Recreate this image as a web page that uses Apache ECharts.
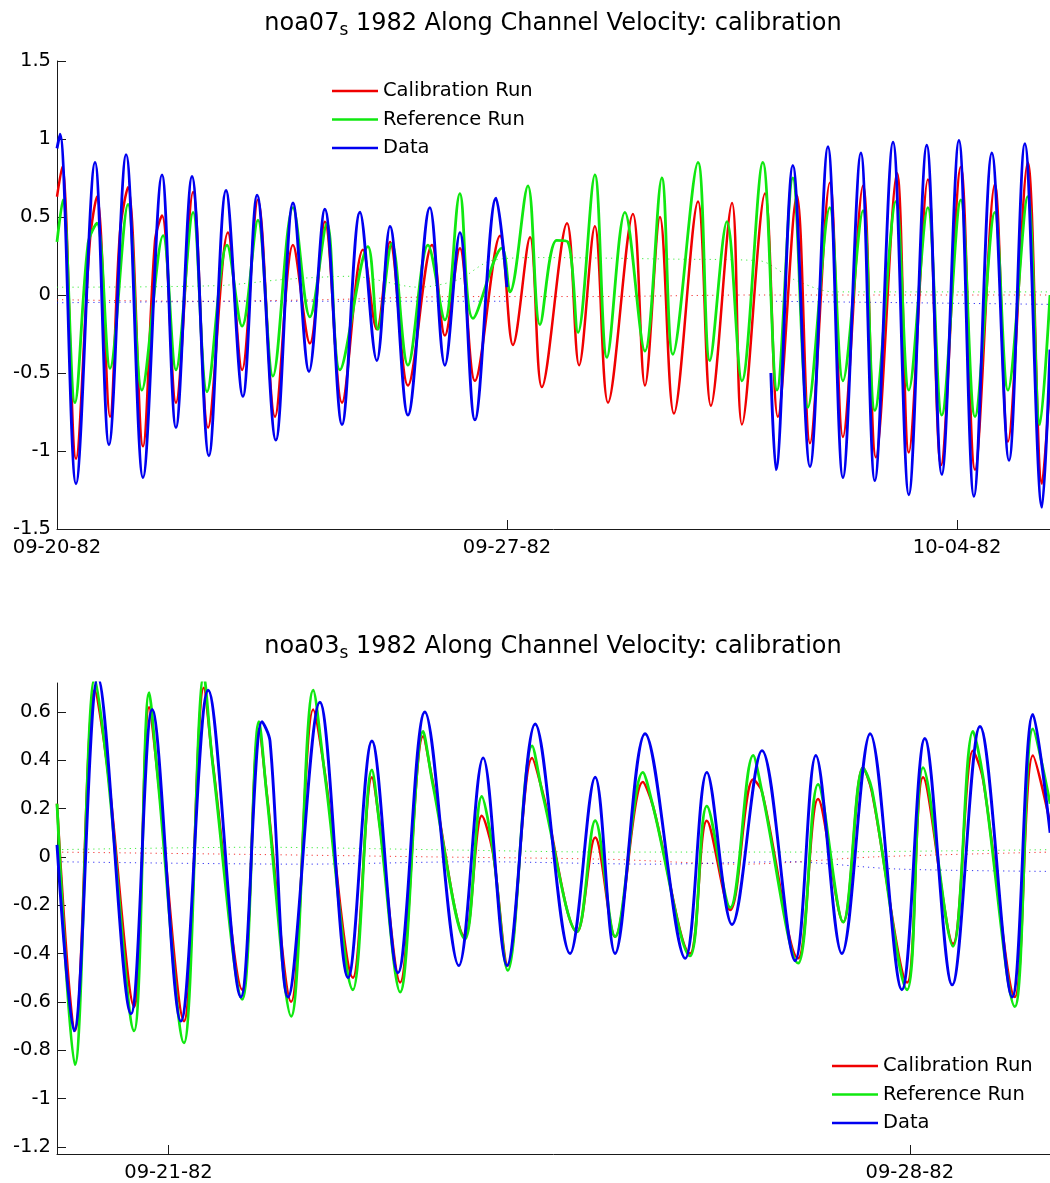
<!DOCTYPE html>
<html>
<head>
<meta charset="utf-8">
<script src="https://cdn.jsdelivr.net/npm/echarts@6/dist/echarts.min.js"></script>
<style>
  html, body { margin: 0; padding: 0; background: #fff; }
  #chart { width: 1050px; height: 1183px; }
</style>
</head>
<body>
<div id="chart"></div>
<script>
// ---------- Upper panel: noa07, hours after 09-20-82 00:00 -> along-channel velocity ----------
const topCalibration = [[0,0.63],[1.9,0.82],[7.1,-1.05],[12.3,0.35],[14.9,0.63],[19.8,-0.78],[23.5,0.40],[26.5,0.69],[32.1,-0.97],[36.6,0.35],[39.2,0.51],[44.4,-0.69],[50.8,0.66],[56.4,-0.85],[63.8,0.40],[69.1,-0.48],[75.0,0.61],[81.4,-0.78],[88.1,0.32],[94.4,-0.31],[100.0,0.47],[106.4,-0.69],[114.2,0.29],[119.4,-0.22],[124.3,0.34],[131.0,-0.58],[140.0,0.32],[144.8,-0.26],[150.4,0.30],[156.0,-0.55],[165.4,0.38],[170.2,-0.32],[176.6,0.37],[181.0,-0.59],[190.4,0.46],[194.9,-0.45],[200.8,0.44],[205.7,-0.69],[215.0,0.52],[219.5,-0.58],[225.1,0.50],[230.3,-0.76],[239.3,0.60],[244.1,-0.71],[252.0,0.59],[255.7,-0.83],[264.3,0.65],[269.1,-0.78],[276.2,0.64],[281.1,-0.95],[288.5,0.72],[293.4,-0.91],[300.9,0.70],[305.7,-1.04],[313.6,0.78],[318.0,-1.01],[325.1,0.74],[330.0,-1.09],[337.4,0.82],[342.7,-1.12],[350.1,0.71],[355.0,-0.94],[362.4,0.85],[367.7,-1.21],[370.7,-0.55]];
const topReference = [[0,0.34],[2.2,0.61],[6.7,-0.69],[11.6,0.33],[14.9,0.46],[19.8,-0.47],[26.5,0.58],[31.7,-0.61],[39.6,0.38],[44.4,-0.48],[50.8,0.53],[56.0,-0.62],[63.5,0.32],[69.1,-0.20],[75.0,0.48],[80.6,-0.52],[88.1,0.56],[94.4,-0.14],[100.8,0.46],[105.6,-0.48],[116.1,0.31],[119.8,-0.22],[125.0,0.33],[131.0,-0.45],[138.5,0.32],[144.8,-0.16],[150.4,0.65],[155.3,-0.15],[166.1,0.30],[169.1,0.02],[175.8,0.70],[180.3,-0.19],[186.5,0.35],[190.7,0.34],[194.5,-0.24],[200.8,0.77],[205.3,-0.40],[212.0,0.53],[219.5,-0.36],[225.8,0.75],[229.9,-0.38],[239.3,0.85],[243.7,-0.42],[250.1,0.47],[255.7,-0.55],[263.5,0.85],[268.8,-0.61],[274.7,0.75],[280.3,-0.72],[288.5,0.56],[293.4,-0.55],[300.9,0.54],[305.3,-0.74],[313.2,0.60],[318.0,-0.61],[325.1,0.56],[330.3,-0.77],[337.4,0.61],[342.7,-0.78],[350.1,0.53],[355.0,-0.61],[362.4,0.63],[366.9,-0.83],[370.7,0.0]];
// observed record has a gap between 09-27 and 10-01
const topData = [[0,0.94],[1.1,1.03],[7.1,-1.21],[14.2,0.85],[19.4,-0.96],[25.8,0.90],[32.1,-1.17],[39.2,0.77],[44.4,-0.85],[50.4,0.76],[56.7,-1.03],[63.1,0.67],[69.4,-0.65],[74.7,0.64],[81.7,-0.93],[88.1,0.59],[94.1,-0.49],[100.0,0.55],[106.4,-0.83],[113.1,0.53],[119.4,-0.42],[124.3,0.44],[131.0,-0.77],[139.2,0.56],[144.8,-0.45],[150.4,0.40],[156.0,-0.80],[163.9,0.62],[168.0,0.05],[216,null],[266.5,-0.50],[268.4,-1.12],[274.7,0.83],[281.1,-1.10],[287.8,0.95],[293.4,-1.17],[300.1,0.91],[305.3,-1.19],[312.1,0.98],[318.0,-1.28],[324.7,0.96],[330.3,-1.15],[336.7,0.99],[342.3,-1.29],[349.0,0.91],[355.4,-1.06],[361.3,0.97],[367.7,-1.36],[370.7,-0.35]];
// low-passed (subtidal) traces, drawn dotted
const topCalibrationMean = [[0,-0.03],[50,-0.04],[100,-0.03],[150,-0.01],[200,-0.01],[260,0.0],[320,0.0],[370.7,0.0]];
const topReferenceMean = [[0,0.05],[60,0.06],[85,0.10],[110,0.12],[135,0.05],[150,0.10],[162,0.22],[180,0.24],[230,0.23],[262,0.22],[275,0.10],[290,0.02],[370.7,0.02]];
const topDataMean = [[0,-0.05],[80,-0.04],[168,-0.04],[216,null],[266.5,-0.04],[320,-0.05],[370.7,-0.06]];
const topTickHours = [0, 168, 336];
const topTickLabels = ['09-20-82', '09-27-82', '10-04-82'];

// ---------- Lower panel: noa03, hours after 09-21-82 00:00 ----------
const bottomCalibration = [[-25.27,0.22],[-21.2,-0.72],[-16.7,0.69],[-13.9,0.38],[-7.8,-0.62],[-4.4,0.62],[-2.4,0.33],[3.5,-0.68],[8.0,0.70],[10.1,0.38],[16.7,-0.55],[20.5,0.53],[22.3,0.26],[27.8,-0.60],[32.8,0.61],[35.5,0.34],[41.8,-0.50],[46.1,0.33],[47.9,0.13],[52.5,-0.52],[57.7,0.50],[59.9,0.31],[67.2,-0.33],[71.0,0.17],[73.5,0.02],[76.9,-0.45],[82.4,0.41],[84.9,0.26],[92.6,-0.31],[96.7,0.08],[101.2,-0.33],[107.5,0.31],[109.8,0.21],[118.2,-0.40],[122.0,0.15],[127.3,-0.22],[132.5,0.32],[134.5,0.27],[142.7,-0.42],[147.2,0.24],[152.9,-0.27],[157.4,0.37],[159.4,0.27],[167.4,-0.52],[171.0,0.33],[177.8,-0.36],[182.3,0.44],[184.6,0.32],[191.8,-0.58],[195.9,0.42],[199.8,0.14]];
const bottomReference = [[-25.27,0.22],[-21.2,-0.86],[-16.7,0.74],[-13.9,0.37],[-7.8,-0.72],[-4.4,0.68],[-2.4,0.32],[3.5,-0.77],[8.0,0.75],[10.1,0.37],[16.7,-0.59],[20.5,0.56],[22.3,0.25],[27.8,-0.66],[32.8,0.69],[35.5,0.33],[41.8,-0.55],[46.1,0.36],[47.9,0.12],[52.5,-0.56],[57.7,0.52],[59.9,0.30],[67.2,-0.34],[71.0,0.25],[73.5,0.03],[76.9,-0.47],[82.4,0.46],[84.9,0.25],[92.6,-0.31],[96.7,0.15],[101.2,-0.33],[107.5,0.35],[109.8,0.21],[118.2,-0.41],[122.0,0.21],[127.3,-0.21],[132.5,0.42],[134.5,0.27],[142.7,-0.44],[147.2,0.30],[152.9,-0.27],[157.4,0.37],[159.4,0.28],[167.4,-0.55],[171.0,0.37],[177.8,-0.37],[182.3,0.52],[184.6,0.33],[191.8,-0.62],[195.9,0.53],[199.8,0.22]];
const bottomData = [[-25.27,0.05],[-21.4,-0.72],[-16.0,0.74],[-8.5,-0.65],[-3.7,0.61],[2.8,-0.68],[9.0,0.69],[16.4,-0.58],[21.2,0.56],[23.0,0.48],[27.1,-0.58],[34.3,0.64],[40.7,-0.50],[46.1,0.48],[52.0,-0.48],[58.1,0.60],[65.8,-0.45],[71.3,0.41],[76.7,-0.45],[83.1,0.55],[91.0,-0.40],[96.7,0.33],[101.2,-0.40],[108.0,0.51],[117.1,-0.42],[122.0,0.35],[127.7,-0.28],[134.5,0.44],[142.0,-0.43],[146.7,0.42],[152.6,-0.40],[159.0,0.51],[166.2,-0.55],[171.4,0.49],[177.6,-0.53],[183.9,0.54],[191.2,-0.58],[195.9,0.59],[199.8,0.10]];
const bottomCalibrationMean = [[-25.27,0.02],[20,0.01],[60,0.0],[100,-0.01],[130,-0.03],[160,0.0],[199.8,0.02]];
const bottomReferenceMean = [[-25.27,0.03],[20,0.04],[60,0.03],[100,0.02],[140,0.02],[199.8,0.03]];
const bottomDataMean = [[-25.27,-0.02],[30,-0.03],[70,-0.02],[110,-0.03],[140,-0.02],[165,-0.05],[199.8,-0.06]];
const bottomTickHours = [0, 168];
const bottomTickLabels = ['09-21-82', '09-28-82'];
const bottomYTicks = [-1.2, -1, -0.8, -0.6, -0.4, -0.2, 0, 0.2, 0.4, 0.6];

const seriesNames = ['Calibration Run', 'Reference Run', 'Data'];
const RED = '#f00000', GREEN = '#10e810', BLUE = '#0000f0';
const FONT = "'DejaVu Sans', sans-serif";
const AXIS_COLOR = '#1a1a1a';

function tidal(name, data, color, width, idx) {
  return {
    name, type: 'line', data, xAxisIndex: idx, yAxisIndex: idx,
    symbol: 'none', showSymbol: false, smooth: 0.35, connectNulls: false,
    lineStyle: { color, width }, itemStyle: { color }, clip: true, silent: true
  };
}
function mean(name, data, color, idx) {
  return {
    name, type: 'line', data, xAxisIndex: idx, yAxisIndex: idx,
    symbol: 'none', showSymbol: false, smooth: 0.3, connectNulls: false,
    lineStyle: { color, width: 1, type: [1.2, 4], opacity: 0.8 }, itemStyle: { color }, silent: true
  };
}
function dateAxis(idx, min, max, ticks, labels) {
  return {
    type: 'value', gridIndex: idx, min, max,
    axisLine: { show: true, onZero: false, lineStyle: { color: AXIS_COLOR, width: 1 } },
    axisTick: { show: true, inside: true, length: 9, customValues: ticks, lineStyle: { color: AXIS_COLOR } },
    axisLabel: { customValues: ticks, margin: 9, color: '#000', fontSize: 19.5, fontFamily: FONT,
      formatter: v => { const i = ticks.findIndex(t => Math.abs(t - v) < 1e-6); return i >= 0 ? labels[i] : ''; } },
    splitLine: { show: false }
  };
}
function titleBlock(name, top) {
  return {
    text: '{t|' + name + '}{s|s}{t| 1982 Along Channel Velocity: calibration}',
    left: 553, top, textAlign: 'center', padding: 0,
    textStyle: {
      fontFamily: FONT, fontSize: 24, fontWeight: 'normal', color: '#000',
      rich: {
        t: { fontFamily: FONT, fontSize: 24, color: '#000' },
        s: { fontFamily: FONT, fontSize: 17, color: '#000', padding: [14, 0, 0, 0] }
      }
    }
  };
}
function legendBlock(left, top) {
  return {
    data: seriesNames, orient: 'vertical', left, top, padding: 0,
    icon: 'rect', itemWidth: 46, itemHeight: 2.6, itemGap: 8.5, selectedMode: false,
    textStyle: { fontFamily: FONT, fontSize: 19.5, lineHeight: 20, color: '#000' }
  };
}

const chart = echarts.init(document.getElementById('chart'), null, { renderer: 'canvas' });
chart.setOption({
  animation: false,
  backgroundColor: '#fff',
  title: [titleBlock('noa07', 8), titleBlock('noa03', 631)],
  legend: [legendBlock(332, 81), legendBlock(832, 1056)],
  grid: [
    { left: 57, top: 61, width: 993, height: 468, outerBoundsMode: 'none' },
    { left: 57, top: 683, width: 993, height: 471, outerBoundsMode: 'none' }
  ],
  xAxis: [
    dateAxis(0, 0, 370.7, topTickHours, topTickLabels),
    dateAxis(1, -25.27, 199.77, bottomTickHours, bottomTickLabels)
  ],
  yAxis: [
    {
      type: 'value', gridIndex: 0, min: -1.5, max: 1.5, interval: 0.5,
      axisLine: { show: true, onZero: false, lineStyle: { color: AXIS_COLOR, width: 1 } },
      axisTick: { show: true, inside: true, length: 9, lineStyle: { color: AXIS_COLOR } },
      axisLabel: { margin: 6, color: '#000', fontSize: 19.5, fontFamily: FONT },
      splitLine: { show: false }
    },
    {
      type: 'value', gridIndex: 1, min: -1.23, max: 0.72,
      axisLine: { show: true, onZero: false, lineStyle: { color: AXIS_COLOR, width: 1 } },
      axisTick: { show: true, inside: true, length: 9, customValues: bottomYTicks, lineStyle: { color: AXIS_COLOR } },
      axisLabel: { customValues: bottomYTicks, margin: 6, color: '#000', fontSize: 19.5, fontFamily: FONT,
        formatter: v => String(Math.round(v * 10) / 10) },
      splitLine: { show: false }
    }
  ],
  series: [
    mean('Calibration Run mean', topCalibrationMean, RED, 0),
    mean('Reference Run mean', topReferenceMean, GREEN, 0),
    mean('Data mean', topDataMean, BLUE, 0),
    tidal(seriesNames[0], topCalibration, RED, 2.5, 0),
    tidal(seriesNames[1], topReference, GREEN, 2.8, 0),
    tidal(seriesNames[2], topData, BLUE, 2.9, 0),
    mean('Calibration Run mean', bottomCalibrationMean, RED, 1),
    mean('Reference Run mean', bottomReferenceMean, GREEN, 1),
    mean('Data mean', bottomDataMean, BLUE, 1),
    tidal(seriesNames[0], bottomCalibration, RED, 2.5, 1),
    tidal(seriesNames[1], bottomReference, GREEN, 2.8, 1),
    tidal(seriesNames[2], bottomData, BLUE, 2.9, 1)
  ]
});
</script>
</body>
</html>
